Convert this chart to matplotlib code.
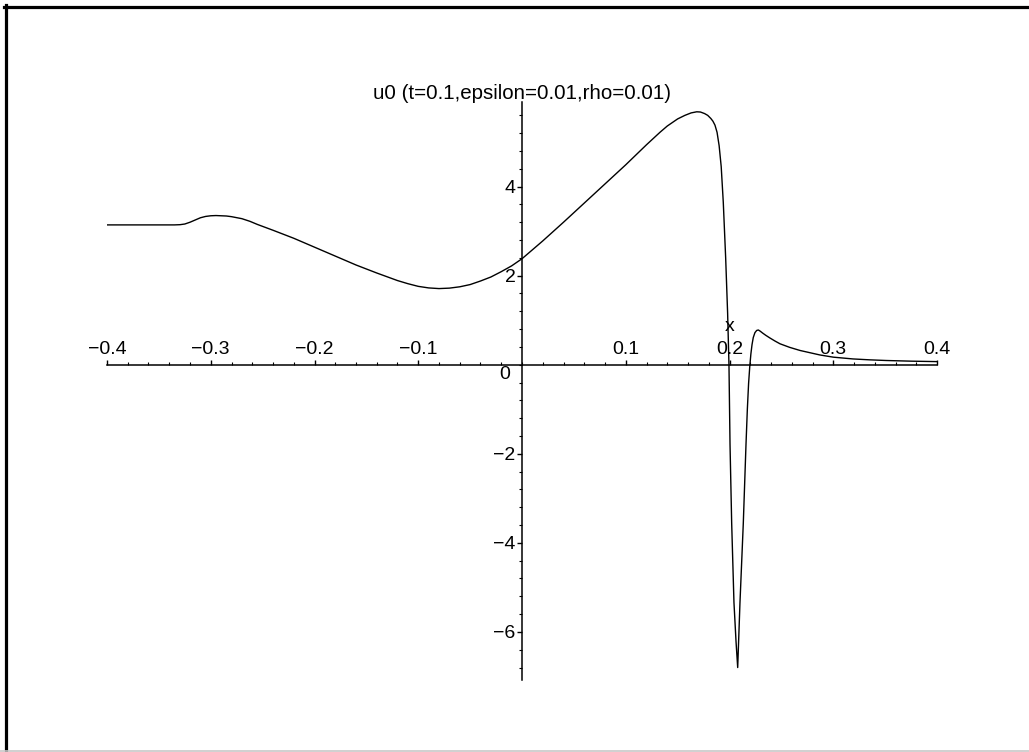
import matplotlib
matplotlib.use("Agg")
import matplotlib.pyplot as plt
from matplotlib.lines import Line2D
from matplotlib.ticker import MultipleLocator, FixedLocator

plt.rcParams["font.family"] = ["Liberation Sans", "DejaVu Sans"]

# u0 sampled along x
x = [-0.40, -0.36, -0.335, -0.3296, -0.325, -0.320, -0.315, -0.310, -0.305,
     -0.300, -0.295, -0.290, -0.285, -0.280, -0.270, -0.2622, -0.255, -0.24,
     -0.22, -0.20, -0.18, -0.16, -0.14, -0.12, -0.11, -0.10, -0.09, -0.08,
     -0.07, -0.06, -0.05, -0.04, -0.03, -0.02, -0.01, 0.00, 0.02, 0.04, 0.06,
     0.08, 0.10, 0.12, 0.133, 0.14, 0.15, 0.157, 0.163, 0.1684, 0.172, 0.176,
     0.179, 0.182, 0.184, 0.186, 0.188, 0.190, 0.192, 0.194, 0.1963, 0.1982,
     0.1995, 0.2005, 0.2021, 0.2043, 0.2063, 0.2079, 0.2101, 0.2133, 0.2159,
     0.2172, 0.2184, 0.2195, 0.2206, 0.2217, 0.2229, 0.2245, 0.2262, 0.2278,
     0.2295, 0.232, 0.235, 0.239, 0.244, 0.2487, 0.258, 0.268, 0.287, 0.300,
     0.319, 0.335, 0.351, 0.375, 0.40]
u0 = [3.14, 3.14, 3.14, 3.145, 3.16, 3.20, 3.25, 3.30, 3.33,
      3.345, 3.35, 3.345, 3.34, 3.325, 3.28, 3.22, 3.15, 3.02,
      2.84, 2.64, 2.44, 2.24, 2.06, 1.89, 1.82, 1.76, 1.725, 1.71,
      1.72, 1.75, 1.80, 1.88, 1.97, 2.09, 2.22, 2.38, 2.78, 3.20, 3.63,
      4.06, 4.49, 4.94, 5.22, 5.36, 5.52, 5.60, 5.655, 5.68, 5.675, 5.64,
      5.60, 5.53, 5.47, 5.38, 5.22, 4.92, 4.45, 3.65, 2.40, 1.15,
      -0.02, -1.79, -3.56, -5.34, -6.22, -6.80, -5.34, -3.56, -1.79,
      -1.00, -0.42, -0.05, 0.24, 0.45, 0.61, 0.72, 0.77, 0.78,
      0.755, 0.71, 0.66, 0.60, 0.53, 0.47, 0.39, 0.32, 0.22, 0.17,
      0.13, 0.11, 0.095, 0.08, 0.07]

x_ticks = [-0.4, -0.3, -0.2, -0.1, 0.1, 0.2, 0.3, 0.4]
y_ticks = [-6, -4, -2, 2, 4]

title = "u0 (t=0.1,epsilon=0.01,rho=0.01)"

W, H = 1029, 752
fig = plt.figure(figsize=(W / 100, H / 100), dpi=100)
ax = fig.add_axes([107 / W, 1 - 680 / H, 830 / W, 578 / H])

ax.plot(x, u0, color="black", linewidth=1.0)

ax.set_xlim(-0.4, 0.4)
ax.set_ylim(-7.08, 5.9)

# axes cross at the origin, Maple style
for side in ["right", "bottom"]:
    ax.spines[side].set_visible(False)
ax.spines["top"].set_position(("data", 0))
ax.spines["left"].set_position(("data", 0))
ax.spines["top"].set_linewidth(1.1)
ax.spines["left"].set_linewidth(1.1)


def fmt(v):
    return ("%g" % v).replace("-", "\u2212")


ax.xaxis.set_ticks_position("top")
ax.xaxis.set_major_locator(FixedLocator(x_ticks))
ax.xaxis.set_minor_locator(MultipleLocator(0.02))
ax.set_xticklabels([fmt(v) for v in x_ticks])
ax.yaxis.set_major_locator(FixedLocator(y_ticks))
ax.yaxis.set_minor_locator(MultipleLocator(0.4))
ax.set_yticklabels([fmt(v) for v in y_ticks])

ax.tick_params(which="major", direction="out", length=3.7, width=1.0,
               labelsize=14, pad=1)
ax.tick_params(which="minor", direction="out", length=2.0, width=0.8)
ax.tick_params(axis="x", which="both", top=True, bottom=False)

ax.text(-0.011, -0.22, "0", ha="right", va="center", fontsize=14)
ax.text(0.2, 0.85, "x", ha="center", va="center", fontsize=14)
ax.text(0.0, 6.08, title, ha="center", va="center", fontsize=14.8)

# page frame
fig.add_artist(Line2D([5.5 / W, 5.5 / W], [0, 1 - 5 / H], color="black", lw=2.3))
fig.add_artist(Line2D([4 / W, 1], [1 - 6.5 / H, 1 - 6.5 / H], color="black", lw=2.3))
fig.add_artist(Line2D([0, 1], [1.5 / H, 1.5 / H], color="#c8c8c8", lw=1.2))

fig.savefig("out.png", dpi=100)
